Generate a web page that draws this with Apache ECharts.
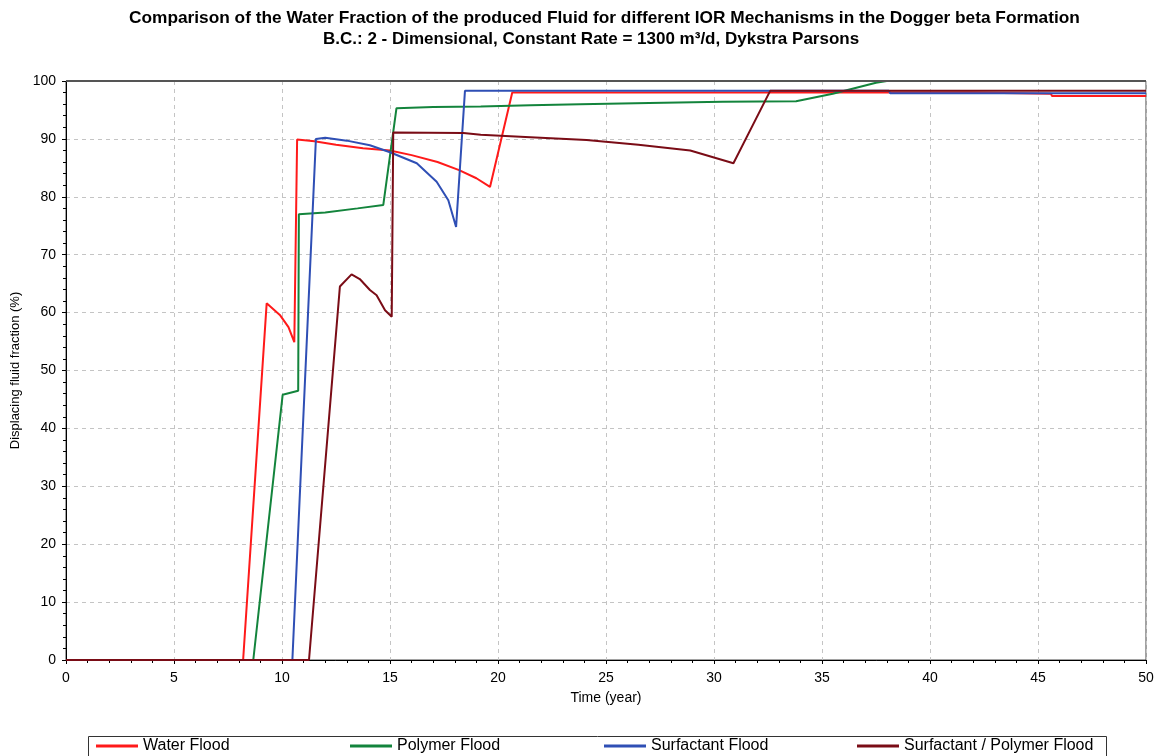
<!DOCTYPE html>
<html>
<head>
<meta charset="utf-8">
<script src="https://cdn.jsdelivr.net/npm/echarts@6/dist/echarts.min.js"></script>
<style>
  html, body { margin: 0; padding: 0; background: #ffffff; }
  #chart { width: 1162px; height: 756px; }
</style>
</head>
<body>
<div id="chart"></div>
<script>
// Water fraction of produced fluid, [time (year), fraction (%)]
const seriesNames = ['Water Flood', 'Polymer Flood', 'Surfactant Flood', 'Surfactant / Polymer Flood'];

const waterFlood = [
  [0, 0], [8.2, 0], [9.29, 61.6], [9.9, 59.6], [10.3, 57.5], [10.57, 54.9],
  [10.7, 89.9], [11.5, 89.6], [12.5, 89.0], [13.75, 88.4], [15.0, 88.0],
  [16.0, 87.2], [17.2, 86.0], [18.2, 84.6], [19.0, 83.2], [19.63, 81.7],
  [20.66, 98.0], [41.9, 98.0], [41.95, 97.8], [45.6, 97.8], [45.65, 97.4], [50, 97.4]
];

const polymerFlood = [
  [0, 0], [8.67, 0], [10.03, 45.8], [10.75, 46.5], [10.78, 77.0], [12.0, 77.3],
  [13.5, 78.0], [14.69, 78.6], [15.3, 95.3], [17.0, 95.5], [19.2, 95.6],
  [21.5, 95.8], [23.8, 96.0], [27.0, 96.2], [30.4, 96.4], [33.8, 96.5],
  [35.5, 97.8], [37.5, 99.7], [38.0, 100], [50, 100]
];

const surfactantFlood = [
  [0, 0], [10.48, 0], [11.57, 90.0], [12.0, 90.2], [13.0, 89.7], [14.07, 88.9],
  [15.0, 87.7], [16.24, 85.8], [17.16, 82.6], [17.7, 79.4], [18.06, 74.8],
  [18.47, 98.3], [38.1, 98.3], [38.15, 97.9], [50, 97.9]
];

const surfactantPolymerFlood = [
  [0, 0], [11.25, 0], [12.68, 64.5], [13.22, 66.6], [13.6, 65.8], [14.07, 63.9],
  [14.38, 63.0], [14.77, 60.4], [15.08, 59.3], [15.15, 91.1], [18.4, 91.0],
  [19.2, 90.7], [21.5, 90.3], [24.1, 89.8], [26.5, 89.0], [28.9, 88.0],
  [30.9, 85.8], [32.6, 98.3], [50, 98.3]
];

const titleLines = [
  'Comparison of the Water Fraction of the produced Fluid for different IOR Mechanisms in the Dogger beta Formation',
  'B.C.: 2 - Dimensional, Constant Rate = 1300 m³/d, Dykstra Parsons'
];

const seriesColors = ['#ff1a1a', '#13843c', '#2f4fb5', '#7a0c16'];
const seriesData = [waterFlood, polymerFlood, surfactantFlood, surfactantPolymerFlood];
const legendLeft = [96, 350, 604, 857];

const chart = echarts.init(document.getElementById('chart'), null, { renderer: 'canvas' });

const font = 'Arial, "Liberation Sans", sans-serif';

// grid box
const gLeft = 66, gRight = 16, gTop = 81, gBottom = 96;

chart.setOption({
  animation: false,
  backgroundColor: '#ffffff',
  title: [
    {
      text: titleLines[0],
      left: 129,
      top: 10,
      padding: 0,
      textStyle: { fontFamily: font, fontSize: 17.3, fontWeight: 'bold', color: '#000' }
    },
    {
      text: titleLines[1],
      left: 323,
      top: 31,
      padding: 0,
      textStyle: { fontFamily: font, fontSize: 17, fontWeight: 'bold', color: '#000' }
    }
  ],
  // one legend block per series so the entries sit on a fixed spacing
  legend: seriesNames.map((name, i) => ({
    left: legendLeft[i],
    top: 738,
    itemWidth: 42,
    itemHeight: 3,
    itemGap: 0,
    icon: 'rect',
    padding: 0,
    data: [name],
    textStyle: { fontFamily: font, fontSize: 16, color: '#000' }
  })),
  graphic: [
    {
      type: 'rect',
      shape: { x: 88.5, y: 736.5, width: 1018, height: 24 },
      style: { fill: 'none', stroke: '#333', lineWidth: 1 },
      silent: true
    },
    {
      // top edge of the plot frame, drawn above the series
      type: 'line',
      z: 100,
      shape: { x1: gLeft, y1: gTop, x2: 1162 - gRight, y2: gTop },
      style: { stroke: '#555', lineWidth: 2 },
      silent: true
    }
  ],
  grid: { left: gLeft, right: gRight, top: gTop, bottom: gBottom, show: true, borderColor: '#444', borderWidth: 1 },
  xAxis: {
    type: 'value', min: 0, max: 50, interval: 5,
    name: 'Time (year)', nameLocation: 'middle', nameGap: 31,
    nameTextStyle: { fontFamily: font, fontSize: 14, color: '#000' },
    axisLine: { onZero: false, lineStyle: { color: '#000' } },
    axisTick: { length: 4, lineStyle: { color: '#000' } },
    minorTick: { show: true, splitNumber: 5, length: 3, lineStyle: { color: '#000' } },
    axisLabel: { fontFamily: font, fontSize: 14, color: '#000', margin: 11 },
    splitLine: { lineStyle: { color: '#c4c4c4', type: [4, 4] } }
  },
  yAxis: {
    type: 'value', min: 0, max: 100, interval: 10,
    name: 'Displacing fluid fraction (%)', nameLocation: 'middle', nameGap: 38,
    nameTextStyle: { fontFamily: font, fontSize: 13, color: '#000' },
    axisLine: { show: true, lineStyle: { color: '#000' } },
    axisTick: { show: true, length: 4, lineStyle: { color: '#000' } },
    minorTick: { show: true, splitNumber: 5, length: 3, lineStyle: { color: '#000' } },
    axisLabel: { fontFamily: font, fontSize: 14, color: '#000', margin: 10 },
    splitLine: { lineStyle: { color: '#c4c4c4', type: [4, 4] } }
  },
  series: seriesNames.map((name, i) => ({
    name: name,
    type: 'line',
    data: seriesData[i],
    showSymbol: false,
    symbol: 'none',
    clip: true,
    color: seriesColors[i],
    lineStyle: { width: 2, color: seriesColors[i] }
  }))
});
</script>
</body>
</html>
